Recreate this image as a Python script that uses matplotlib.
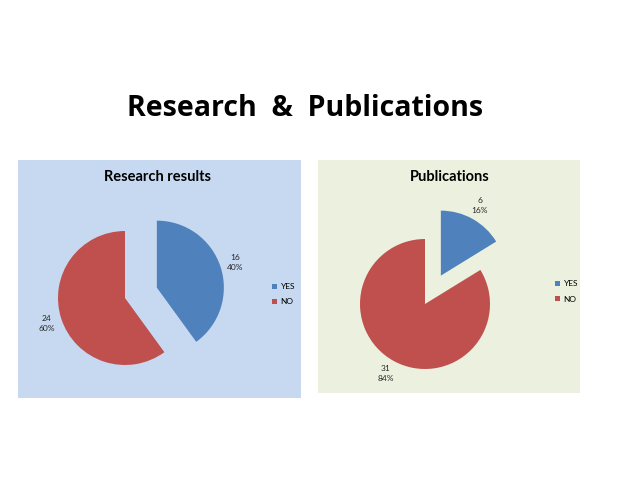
import matplotlib
matplotlib.use('Agg')
import matplotlib.pyplot as plt
from matplotlib.patches import Rectangle

plt.rcParams['font.family'] = ['Lato', 'DejaVu Sans']

categories = ['YES', 'NO']
research_vals = [16, 24]
pub_vals = [6, 31]
colors = ['#4F81BD', '#C0504D']

W, H = 638, 479
fig = plt.figure(figsize=(W / 100, H / 100), dpi=100)
ax = fig.add_axes([0, 0, 1, 1])
ax.set_xlim(0, W)
ax.set_ylim(0, H)
ax.axis('off')


def labels_for(vals):
    tot = sum(vals)
    return ['%d\n%d%%' % (v, round(100 * v / tot)) for v in vals]


def panel(x0, x1, ytop, ybot, face):
    ax.add_patch(Rectangle((x0, H - ybot), x1 - x0, ybot - ytop,
                           facecolor=face, edgecolor='none', zorder=0))


def draw_pie(vals, cx, cy, r, title, tx, leg_xy):
    # explode is in data units here (pixels), so scale by radius
    wedges, texts = ax.pie(vals, labels=labels_for(vals), colors=colors,
                           startangle=90, counterclock=False,
                           explode=[0.5 * r, 0], center=(cx, H - cy), radius=r,
                           labeldistance=1.23, frame=True,
                           wedgeprops=dict(linewidth=0),
                           textprops=dict(fontsize=6, color='#262626'))
    for t in texts:
        t.set_ha('center')
        t.set_linespacing(1.45)
    ax.text(tx, H - 177, title, ha='center', va='center',
            fontsize=10.5, fontweight='bold')
    ax.legend(wedges, categories, loc='upper left',
              bbox_to_anchor=(leg_xy[0], H - leg_xy[1]),
              bbox_transform=ax.transData, frameon=False,
              fontsize=6, handlelength=0.6, handleheight=0.6,
              handletextpad=0.4, labelspacing=1.0, borderpad=0)
    return wedges


panel(18, 301, 160, 398, '#C6D9F1')
panel(318, 580, 160, 393, '#EBF1DE')

draw_pie(research_vals, 125, 298, 67, 'Research results', 158, (268, 279))
leg1 = ax.get_legend()
draw_pie(pub_vals, 425, 304, 65, 'Publications', 450, (551, 276))
ax.add_artist(leg1)

ax.set_xlim(0, W)
ax.set_ylim(0, H)
ax.set_aspect('auto')
ax.axis('off')

fig.text(305 / W, 1 - 108 / H, 'Research  &  Publications', ha='center',
         va='center', fontsize=20.5, fontweight='bold', family='Open Sans')

fig.savefig('out.png', dpi=100, facecolor='white')
